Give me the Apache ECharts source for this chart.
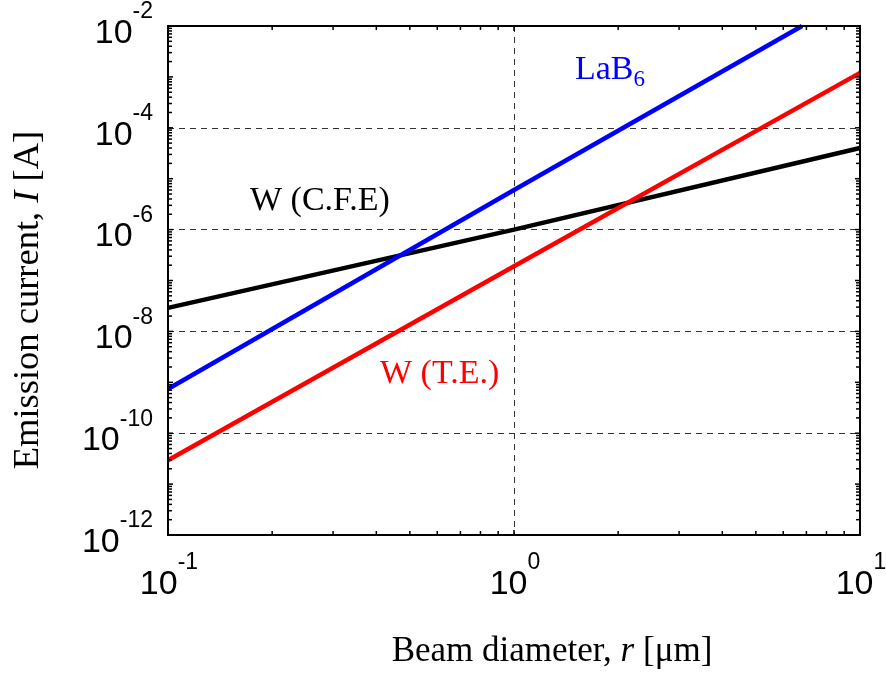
<!DOCTYPE html>
<html>
<head>
<meta charset="utf-8">
<script src="https://cdn.jsdelivr.net/npm/echarts@6/dist/echarts.min.js"></script>
<style>
  html, body { margin: 0; padding: 0; background: #fff; }
  #chart { width: 886px; height: 677px; }
</style>
</head>
<body>
<div id="chart"></div>
<script>
// ---- data (log-log straight lines) ----
const seriesNames = ['W (C.F.E)', 'LaB6', 'W (T.E.)'];
const cfeData  = [[0.1, 2.9e-8], [1, 1.0e-6], [10, 4.0e-5]];
const lab6Data = [[0.1, 7.4e-10], [1, 6.0e-6], [6.8, 1.0e-2]];
const teData   = [[0.1, 2.95e-11], [1, 1.9e-7], [10, 1.2e-3]];

// axis ranges / tick labels (labels are 10^exponent)
const xMin = 0.1, xMax = 10;
const yMin = 1e-12, yMax = 1e-2;
const xLabelExponents = [-1, 0, 1];
const yLabelExponents = [-12, -10, -8, -6, -4, -2];

// tick mark values (MATLAB-style log ticks: decades + 2..9 minors)
const minorMultipliers = [2, 3, 4, 5, 6, 7, 8, 9];
function logTicks(lo, hi) {
  const out = [];
  for (let e = lo; e <= hi; e++) {
    out.push([Math.pow(10, e), 1]);
    if (e < hi) minorMultipliers.forEach(m => out.push([m * Math.pow(10, e), 0]));
  }
  return out;
}
const xTicks = logTicks(-1, 1);
const yTicks = logTicks(-12, -2);

const sansFont = "'Liberation Sans', Arial, sans-serif";
const serifFont = "'Liberation Serif', 'Times New Roman', serif";
const baseFont = '34px ' + sansFont;
const supFont = '23px ' + sansFont;
const annFont = '34px ' + serifFont;

const measureCtx = document.createElement('canvas').getContext('2d');
function textWidth(t, font) { measureCtx.font = font; return measureCtx.measureText(t).width; }

const chart = echarts.init(document.getElementById('chart'), null, { renderer: 'canvas' });

function tickSeries(data, isX) {
  return {
    type: 'custom', silent: true, z: 5, clip: false,
    data: isX ? data.map(d => [d[0], yMin, d[1]]) : data.map(d => [xMin, d[0], d[1]]),
    encode: { x: 0, y: 1 },
    renderItem: function (params, api) {
      const cs = params.coordSys;
      const p = api.coord([api.value(0), api.value(1)]);
      const len = api.value(2) ? 5 : 4;
      const st = { stroke: '#000', lineWidth: 1.5 };
      if (isX) {
        return { type: 'group', children: [
          { type: 'line', shape: { x1: p[0], y1: cs.y + cs.height, x2: p[0], y2: cs.y + cs.height - len }, style: st },
          { type: 'line', shape: { x1: p[0], y1: cs.y, x2: p[0], y2: cs.y + len }, style: st }
        ]};
      }
      return { type: 'group', children: [
        { type: 'line', shape: { x1: cs.x, y1: p[1], x2: cs.x + len, y2: p[1] }, style: st },
        { type: 'line', shape: { x1: cs.x + cs.width, y1: p[1], x2: cs.x + cs.width - len, y2: p[1] }, style: st }
      ]};
    }
  };
}

// tick labels "10^e" drawn at the axis scale positions
function labelSeries(exps, isX) {
  return {
    type: 'custom', silent: true, z: 6, clip: false,
    data: isX ? exps.map(e => [Math.pow(10, e), yMin, e]) : exps.map(e => [xMin, Math.pow(10, e), e]),
    encode: { x: 0, y: 1 },
    renderItem: function (params, api) {
      const cs = params.coordSys;
      const p = api.coord([api.value(0), api.value(1)]);
      const sup = String(api.value(2));
      const wB = textWidth('10', baseFont), wS = textWidth(sup, supFont);
      let left, midB, midS;
      if (isX) {
        left = p[0] - (wB + wS) / 2 + 1;
        midB = cs.y + cs.height + 50;
        midS = midB - 22;
      } else {
        left = cs.x - 15 - wB - wS;
        midB = p[1] + 7.5;
        midS = midB - 21.5;
      }
      return { type: 'group', children: [
        { type: 'text', x: left, y: midB, style: { text: '10', font: baseFont, fill: '#000', align: 'left', verticalAlign: 'middle' } },
        { type: 'text', x: left + wB, y: midS, style: { text: sup, font: supFont, fill: '#000', align: 'left', verticalAlign: 'middle' } }
      ]};
    }
  };
}

function lineSeries(name, data, color) {
  return {
    name: name, type: 'line', data: data, showSymbol: false, symbol: 'none',
    lineStyle: { color: color, width: 4.5 }, z: 3, clip: true, animation: false
  };
}

const labBWidth = textWidth('LaB', annFont);

const option = {
  animation: false,
  backgroundColor: '#fff',
  grid: { left: 168, right: 26, top: 26, bottom: 142, show: true, borderColor: '#000', borderWidth: 2, backgroundColor: 'transparent', z: 10 },
  xAxis: {
    type: 'log', logBase: 10, min: xMin, max: xMax, interval: 1,
    axisLine: { show: false }, axisTick: { show: false }, axisLabel: { show: false },
    splitLine: { show: true, lineStyle: { color: '#333', width: 1, type: [6, 5] } },
    minorTick: { show: false }, minorSplitLine: { show: false }
  },
  yAxis: {
    type: 'log', logBase: 10, min: yMin, max: yMax, interval: 2, splitNumber: 5,
    axisLine: { show: false }, axisTick: { show: false }, axisLabel: { show: false },
    splitLine: { show: true, lineStyle: { color: '#333', width: 1, type: [6, 5] } }
  },
  graphic: [
    { type: 'text', x: 552, y: 652, style: { text: 'Beam diameter, {i|r} [μm]', font: '35px ' + serifFont, fill: '#000', align: 'center', verticalAlign: 'middle',
        rich: { i: { fontFamily: serifFont, fontSize: 35, fontStyle: 'italic' } } } },
    { type: 'text', x: 28, y: 300, rotation: Math.PI / 2, style: { text: 'Emission current, {i|I} [A]', font: '36.5px ' + serifFont, fill: '#000', align: 'center', verticalAlign: 'middle',
        rich: { i: { fontFamily: serifFont, fontSize: 36.5, fontStyle: 'italic' } } } },
    { type: 'text', x: 575, y: 70, style: { text: 'LaB', font: annFont, fill: '#0000ff', align: 'left', verticalAlign: 'middle' } },
    { type: 'text', x: 575 + labBWidth, y: 80, style: { text: '6', font: '23px ' + serifFont, fill: '#0000ff', align: 'left', verticalAlign: 'middle' } },
    { type: 'text', x: 250, y: 201, style: { text: 'W (C.F.E)', font: annFont, fill: '#000', align: 'left', verticalAlign: 'middle' } },
    { type: 'text', x: 380, y: 374, style: { text: 'W (T.E.)', font: annFont, fill: '#ff0000', align: 'left', verticalAlign: 'middle' } }
  ],
  series: [
    lineSeries(seriesNames[0], cfeData, '#000000'),
    lineSeries(seriesNames[1], lab6Data, '#0000ff'),
    lineSeries(seriesNames[2], teData, '#ff0000'),
    tickSeries(xTicks, true),
    tickSeries(yTicks, false),
    labelSeries(xLabelExponents, true),
    labelSeries(yLabelExponents, false)
  ]
};
chart.setOption(option);
</script>
</body>
</html>
